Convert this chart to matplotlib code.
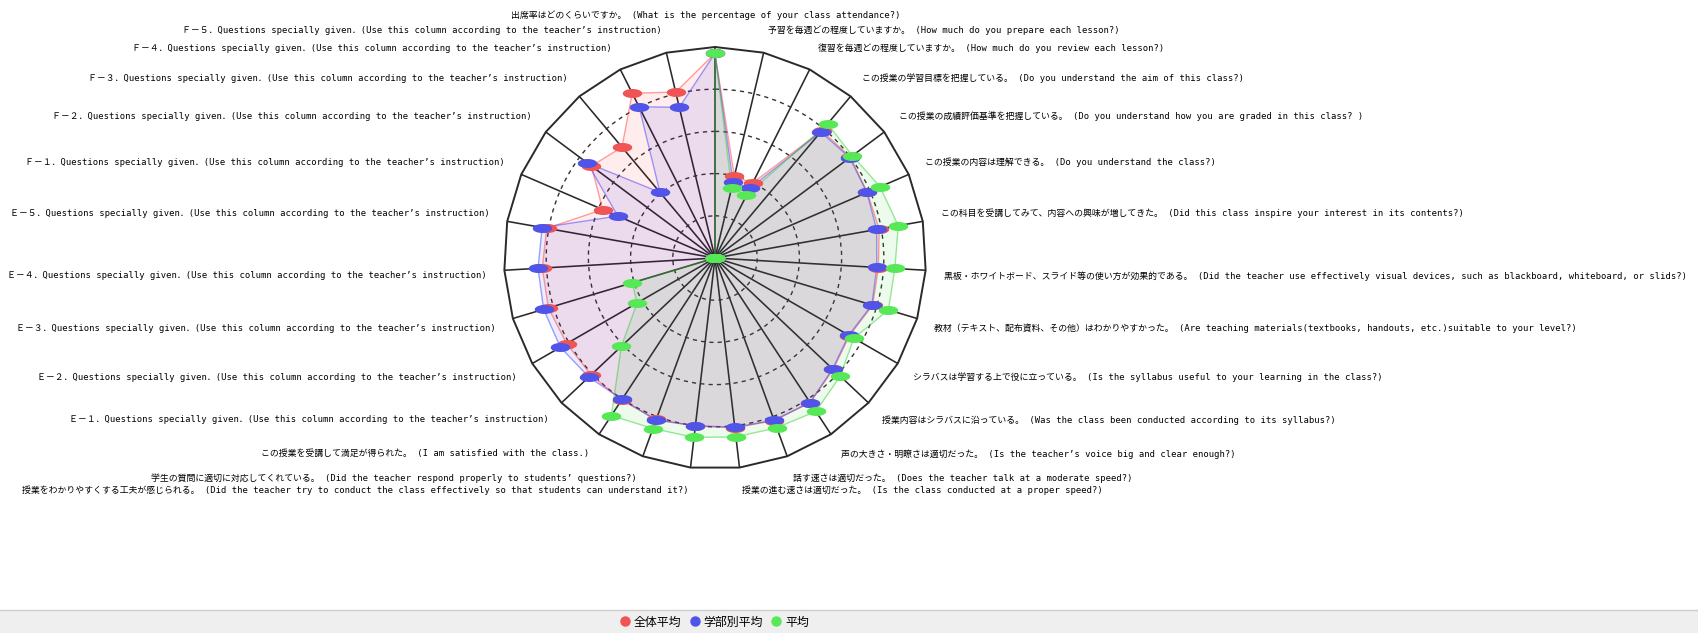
import numpy as np
import matplotlib
matplotlib.use("Agg")
import matplotlib.pyplot as plt
import matplotlib.transforms as mtransforms
from matplotlib.path import Path
from matplotlib.lines import Line2D
from matplotlib.patches import Rectangle

# ---------------- data ----------------
categories = [
    "出席率はどのくらいですか。 (What is the percentage of your class attendance?)",
    "予習を毎週どの程度していますか。 (How much do you prepare each lesson?)",
    "復習を毎週どの程度していますか。 (How much do you review each lesson?)",
    "この授業の学習目標を把握している。 (Do you understand the aim of this class?)",
    "この授業の成績評価基準を把握している。 (Do you understand how you are graded in this class? )",
    "この授業の内容は理解できる。 (Do you understand the class?)",
    "この科目を受講してみて、内容への興味が増してきた。 (Did this class inspire your interest in its contents?)",
    "黒板・ホワイトボード、スライド等の使い方が効果的である。 (Did the teacher use effectively visual devices, such as blackboard, whiteboard, or slids?)",
    "教材（テキスト、配布資料、その他）はわかりやすかった。 (Are teaching materials(textbooks, handouts, etc.)suitable to your level?)",
    "シラバスは学習する上で役に立っている。 (Is the syllabus useful to your learning in the class?)",
    "授業内容はシラバスに沿っている。 (Was the class been conducted according to its syllabus?)",
    "声の大きさ・明瞭さは適切だった。 (Is the teacher’s voice big and clear enough?)",
    "話す速さは適切だった。 (Does the teacher talk at a moderate speed?)",
    "授業の進む速さは適切だった。 (Is the class conducted at a proper speed?)",
    "授業をわかりやすくする工夫が感じられる。 (Did the teacher try to conduct the class effectively so that students can understand it?)",
    "学生の質問に適切に対応してくれている。 (Did the teacher respond properly to students’ questions?)",
    "この授業を受講して満足が得られた。 (I am satisfied with the class.)",
    "Ｅ－１．Questions specially given．(Use this column according to the teacher’s instruction)",
    "Ｅ－２．Questions specially given．(Use this column according to the teacher’s instruction)",
    "Ｅ－３．Questions specially given．(Use this column according to the teacher’s instruction)",
    "Ｅ－４．Questions specially given．(Use this column according to the teacher’s instruction)",
    "Ｅ－５．Questions specially given．(Use this column according to the teacher’s instruction)",
    "Ｆ－１．Questions specially given．(Use this column according to the teacher’s instruction)",
    "Ｆ－２．Questions specially given．(Use this column according to the teacher’s instruction)",
    "Ｆ－３．Questions specially given．(Use this column according to the teacher’s instruction)",
    "Ｆ－４．Questions specially given．(Use this column according to the teacher’s instruction)",
    "Ｆ－５．Questions specially given．(Use this column according to the teacher’s instruction)",
]

overall_avg = [4.85, 1.99, 1.99, 3.94, 4.00, 3.93, 3.95, 3.88, 3.90, 3.68, 3.85, 4.10, 4.10, 4.05,
               4.01, 4.07, 4.03, 4.04, 4.06, 4.12, 4.10, 4.05, 2.90, 3.65, 3.43, 4.37, 4.04]
faculty_avg = [4.85, 1.85, 1.85, 3.90, 3.98, 3.92, 3.89, 3.84, 3.88, 3.66, 3.83, 4.10, 4.09, 4.04,
               4.00, 4.09, 4.01, 4.11, 4.23, 4.24, 4.20, 4.16, 2.51, 3.77, 2.03, 4.01, 3.67]
class_avg = [4.85, 1.71, 1.66, 4.15, 4.06, 4.26, 4.41, 4.27, 4.29, 3.80, 4.08, 4.35, 4.28, 4.27,
             4.28, 4.30, 4.47, 3.05, 2.13, 2.05, 0, 0, 0, 0, 0, 0, 0]

series_names = ["全体平均", "学部別平均", "平均"]
series_values = [overall_avg, faculty_avg, class_avg]
marker_colors = ["#f05454", "#5054e8", "#56e856"]
fill_colors = ["#ff0000", "#0000ff", "#00cc00"]
line_colors = ["#ff3030", "#3030ff", "#22cc22"]

r_max = 5
grid_levels = [1, 2, 3, 4]

# ---------------- figure ----------------
W, H = 1699, 633
fig = plt.figure(figsize=(W / 100, H / 100), dpi=100)
fig.patch.set_facecolor("white")

cx, cy, R = 715, 258, 211
ax = fig.add_axes([(cx - R) / W, (H - cy - R) / H, 2 * R / W, 2 * R / H], projection="polar")
ax.set_theta_zero_location("N")
ax.set_theta_direction(-1)
ax.set_facecolor("none")

n = len(categories)
angles = np.arange(n) * 2 * np.pi / n
ang_closed = np.append(angles, angles[0])

ax.set_ylim(0, r_max)
ax.set_xticks(angles)
ax.set_xticklabels([])
ax.set_yticks(grid_levels)
ax.set_yticklabels([])
ax.xaxis.grid(True, color="#2a2a2a", linewidth=1.15, linestyle="-")
ax.yaxis.grid(True, color="#333333", linewidth=1.0, linestyle=(0, (3, 3)))
ax.spines["polar"].set_visible(False)
ax.tick_params(length=0)

# outer polygon frame
ax.plot(ang_closed, [r_max] * (n + 1), color="#2a2a2a", linewidth=1.4, zorder=3, clip_on=False)

# ellipse marker
t = np.linspace(0, 2 * np.pi, 60)
ell = Path(np.column_stack([np.cos(t), 0.42 * np.sin(t)]), closed=True)

for vals, fc, lc in zip(series_values, fill_colors, line_colors):
    v = np.append(vals, vals[0])
    ax.fill(ang_closed, v, color=fc, alpha=0.075, zorder=2, linewidth=0)
    ax.plot(ang_closed, v, color=lc, alpha=0.45, linewidth=1.0, zorder=4)
for vals, mc in zip(series_values, marker_colors):
    ax.plot(angles, vals, linestyle="none", marker=ell, markersize=13,
            markerfacecolor=mc, markeredgecolor=mc, zorder=5, clip_on=False)

# point labels
label_r = r_max * 229 / 211
top_r = r_max * 238 / 211
for a, lab in zip(angles, categories):
    deg = np.degrees(a)
    r = label_r
    trans = ax.transData
    if np.isclose(deg, 0) or np.isclose(deg, 180):
        ha = "center"
        r = top_r
        trans = mtransforms.offset_copy(ax.transData, fig=fig, x=-9, y=0, units="dots")
    elif deg < 180:
        ha = "left"
    else:
        ha = "right"
    if np.isclose(deg, 90) or np.isclose(deg, 270):
        va = "center"
    elif deg < 90 or deg > 270:
        va = "bottom"
    else:
        va = "top"
    ax.text(a, r, lab, ha=ha, va=va, fontsize=6.4, transform=trans,
            family=["DejaVu Sans Mono", "Noto Sans CJK JP"], color="black", clip_on=False)

# legend strip
strip_h = 23 / H
fig.patches.append(Rectangle((0, 0), 1, strip_h, transform=fig.transFigure,
                             facecolor="#efefef", edgecolor="none", zorder=0))
fig.add_artist(Line2D([0, 1], [strip_h, strip_h], transform=fig.transFigure,
                      color="#cccccc", linewidth=1.0))
handles = [Line2D([], [], linestyle="none", marker="o", markersize=6.5,
                  markerfacecolor=c, markeredgecolor=c) for c in marker_colors]
fig.legend(handles, series_names, loc="center", bbox_to_anchor=(714 / W, 11 / H),
           ncol=3, frameon=False, handletextpad=0.25, columnspacing=0.6,
           handlelength=1.0, prop={"family": ["Noto Sans CJK JP", "DejaVu Sans"], "size": 8.6})

fig.savefig("out.png", dpi=100)
